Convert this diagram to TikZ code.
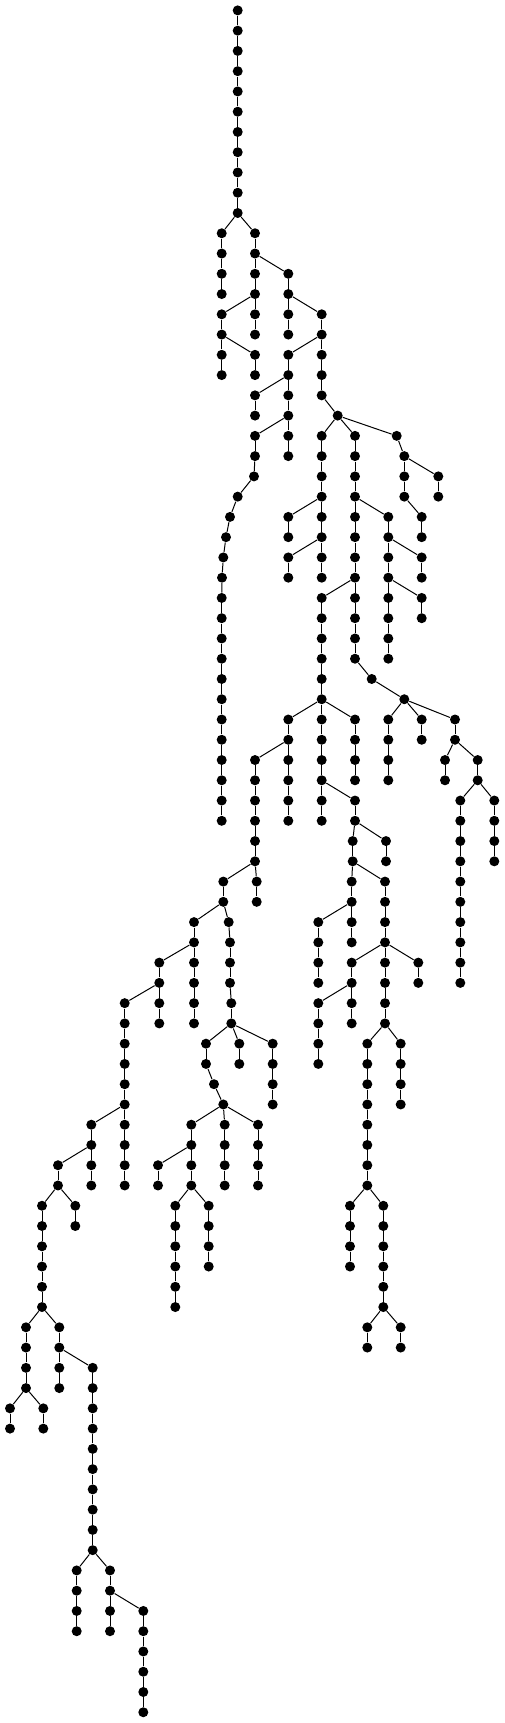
\documentclass[tikz,border=0pt]{standalone}
\usepackage{tikz}
\tikzstyle{line} = [draw, line width=0.5pt]

% straight run of dots: name, x, first level, last level
\newcommand{\twig}[4]{%
	\foreach \l in {#3,...,#4} {
		\node[dot] (#1\l) at (#2,\l) {};
	}
	\foreach \l in {#3,...,#4} {
		\ifnum\l>#3
			\pgfmathtruncatemacro\k{\l-1}
			\draw[line] (#1\k) -- (#1\l);
		\fi
	}
}
% bent run of dots: name, first level, list of x
\newcommand{\crook}[3]{%
	\foreach \x [count=\i from #2] in {#3} {
		\node[dot] (#1\i) at (\x,\i) {};
		\ifnum\i>#2
			\pgfmathtruncatemacro\k{\i-1}
			\draw[line] (#1\k) -- (#1\i);
		\fi
	}
}

\begin{document}
\begin{tikzpicture}[x=0.5pt, y={(0pt,-10.13pt)},
			dot/.style={circle, fill=black, inner sep=0pt, minimum size=5pt}]
			\useasboundingbox (0,-0.5133) rectangle (504,84.531);
			
			\twig{r}{237.7}{0}{10}
			\twig{a}{221.7}{11}{14}
			\twig{b}{255}{11}{14}
			\twig{c}{288.3}{13}{14}
			\twig{d}{221.7}{15}{18}
			\twig{h}{255}{17}{18}
			\twig{e}{255}{15}{16}
			\twig{f}{288.3}{15}{16}
			\twig{g}{321.7}{15}{19}
			\twig{i}{288.3}{17}{22}
			\twig{k}{255}{19}{20}
			\crook{m}{21}{255,255,254,237.7,230,226,223.3,222,221.7,221.7,221.7,221.7,221.7,221.7,221.7,221.7,221.7,221.7,221.7,221.7}
			\node[dot] (j20) at (337.7,20) {};
			\twig{n}{321.7}{21}{28}
			\twig{q}{288.3}{25}{26}
			\twig{s}{288.3}{27}{28}
			\crook{o}{21}{355,355,355,355,355,355,355,355,355,355,355,355,371.7,404.3}
			\twig{t}{388.3}{25}{32}
			\twig{v}{421.7}{27}{28}
			\twig{w}{421.7}{29}{30}
			\crook{p}{21}{396.7,404.3,404.3,404.3,421.7,421.7}
			\twig{pa}{438.3}{23}{24}
			\twig{u}{321.7}{29}{40}
			\twig{z}{288.3}{35}{40}
			\twig{aa}{355}{35}{38}
			\twig{bb}{255}{37}{42}
			\twig{cc}{223.3}{43}{44}
			\twig{dd}{256.7}{43}{44}
			\crook{yy}{39}{355,355,352.7,352.7,351.7,351.7,351.7,351.7}
			\twig{ee}{386}{41}{42}
			\twig{ff}{385}{43}{50}
			\twig{gg}{318.3}{45}{48}
			\twig{hh}{351.7}{47}{50}
			\twig{ii}{418.3}{47}{48}
			\twig{ll}{318.3}{49}{52}
			\twig{jj}{367.3}{51}{58}
			\twig{kk}{400.7}{51}{54}
			\twig{mm}{350}{59}{62}
			\twig{nn}{383.3}{59}{64}
			\twig{oo}{367.3}{65}{66}
			\twig{pp}{400.7}{65}{66}
			\twig{rr}{388.3}{35}{38}
			\twig{ss}{421.7}{35}{36}
			\twig{tt}{455}{35}{36}
			\twig{uu}{445}{37}{38}
			\twig{vv}{477.7}{37}{38}
			\twig{ww}{460.3}{39}{48}
			\twig{xx}{494.3}{39}{42}
			\twig{ea}{194}{45}{50}
			\crook{eb}{45}{228.7,230,230,230,231.3,231.3}
			\twig{ec}{159.3}{47}{50}
			\twig{ed}{124.7}{49}{58}
			\twig{ef}{91.3}{55}{58}
			\twig{eg}{58}{57}{58}
			\twig{eh}{42}{59}{64}
			\twig{ei}{75.3}{59}{60}
			\twig{ej}{26}{65}{68}
			\twig{ek}{59.3}{65}{68}
			\twig{el}{10}{69}{70}
			\twig{em}{43.3}{69}{70}
			\twig{en}{92.7}{67}{76}
			\twig{eo}{76.7}{77}{80}
			\twig{ep}{110}{77}{80}
			\twig{eq}{143.3}{79}{84}
			\crook{fa}{51}{206,206,214,223.3}
			\twig{fb}{239.3}{51}{52}
			\twig{fc}{272.7}{51}{54}
			\twig{fd}{191.3}{55}{58}
			\twig{fe}{224.7}{55}{58}
			\twig{fg}{258}{55}{58}
			\twig{fh}{158}{57}{58}
			\twig{fi}{175.3}{59}{64}
			\twig{fj}{208.7}{59}{62}
			
			% branching links
			\foreach \p/\c in {r10/a11, r10/b11, b12/c13, b14/d15, b14/e15, c14/f15, c14/g15,
				d16/h17, g16/i17, i18/k19, i20/m21, g19/j20, j20/n21, j20/o21, j20/p21,
				n24/q25, n26/s27, o24/t25, t26/v27, t28/w29, p22/pa23, o28/u29,
				u34/z35, u34/aa35, z36/bb37, bb42/cc43, bb42/dd43, u38/yy39,
				yy40/ee41, yy42/ff43, yy44/gg45, ff46/hh47, ff46/ii47, hh48/ll49,
				ff50/jj51, ff50/kk51, jj58/mm59, jj58/nn59, nn64/oo65, nn64/pp65,
				o34/rr35, o34/ss35, o34/tt35, tt36/uu37, tt36/vv37, vv38/ww39, vv38/xx39,
				cc44/ea45, cc44/eb45, ea46/ec47, ec48/ed49, ed54/ef55, ef56/eg57,
				eg58/eh59, eg58/ei59, eh64/ej65, eh64/ek65, ej68/el69, ej68/em69,
				ek66/en67, en76/eo77, en76/ep77, ep78/eq79,
				eb50/fa51, eb50/fb51, eb50/fc51, fa54/fd55, fa54/fe55, fa54/fg55,
				fd56/fh57, fd58/fi59, fd58/fj59}
				\draw[line] (\p) -- (\c);
		\end{tikzpicture}
\end{document}
